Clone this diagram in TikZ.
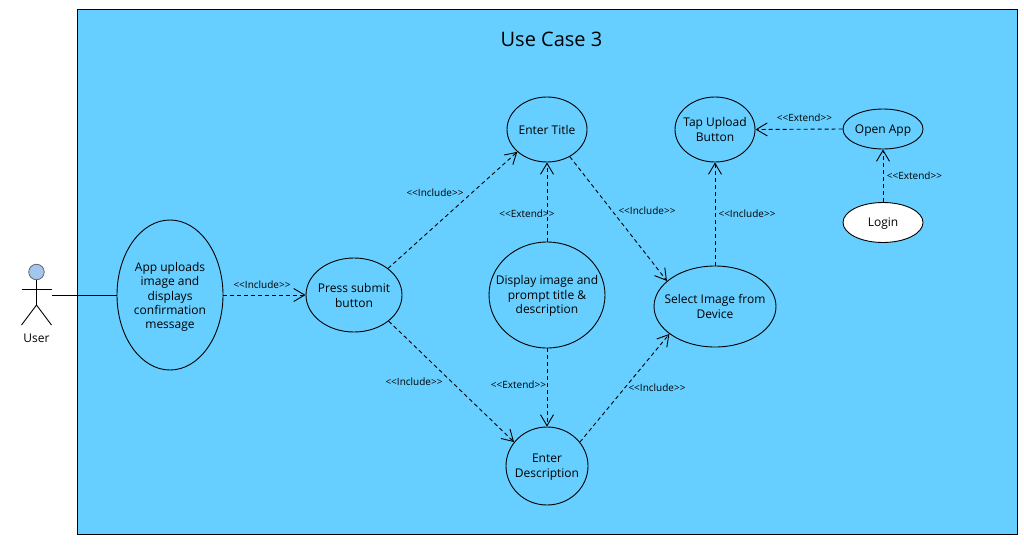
\documentclass[tikz,border=0pt]{standalone}
\usepackage{fontspec}
\setmainfont{Open Sans}
\usetikzlibrary{shapes.geometric,arrows.meta}
\definecolor{sysblue}{HTML}{66CFFF}
\definecolor{headblue}{HTML}{A3C6EF}
\newcommand{\inclab}{{<}{<}Include{>}{>}}
\newcommand{\extlab}{{<}{<}Extend{>}{>}}
\tikzset{
  usecase/.style={ellipse,draw=black,line width=0.9pt,inner sep=0pt},
  casetext/.style={inner sep=0pt,align=center,font=\fontsize{12}{14.4}\selectfont},
  dep/.style={draw=black,line width=0.9pt,dash pattern=on 4pt off 3pt,-{Straight Barb[length=11pt,width=13pt,line width=0.9pt]}},
  deplabel/.style={inner sep=0pt,font=\fontsize{10}{12}\selectfont},
  limb/.style={draw=black,line width=0.9pt}
}
\begin{document}
\begin{tikzpicture}[x=1pt,y=-1pt]
\useasboundingbox (0,0) rectangle (1024,546);
\fill[white] (0,0) rectangle (1024,546);
\node[draw=black,fill=sysblue,line width=1pt,outer sep=0pt,minimum width=939.5pt,minimum height=525pt,inner sep=0pt,anchor=north west] (system) at (77.5,9) {};
\node[font=\fontsize{20}{24}\selectfont,inner sep=0pt] (title) at (551.5,39) {Use Case 3};

\node[usecase,minimum width=106pt,minimum height=150pt,label={[casetext,yshift=-2pt]center:{App uploads\\image and\\displays\\confirmation\\message}}] (app) at (170,295) {};
\node[usecase,minimum width=96pt,minimum height=74pt,label={[casetext,yshift=-0.5pt]center:{Press submit\\button}}] (press) at (354,295) {};
\node[usecase,minimum width=80pt,minimum height=65pt,label={[casetext]center:{Enter Title}}] (etitle) at (547,129.5) {};
\node[usecase,minimum width=116pt,minimum height=106pt,label={[casetext,yshift=-1pt]center:{Display image and\\prompt title \&\\description}}] (display) at (547,295) {};
\node[usecase,minimum width=82pt,minimum height=78pt,label={[casetext,yshift=-1pt]center:{Enter\\Description}}] (desc) at (547,466) {};
\node[usecase,minimum width=122pt,minimum height=81pt,label={[casetext]center:{Select Image from\\Device}}] (select) at (715,306.5) {};
\node[usecase,minimum width=80pt,minimum height=65pt,label={[casetext]center:{Tap Upload\\Button}}] (tap) at (715,129.5) {};
\node[usecase,minimum width=80pt,minimum height=40pt,label={[casetext,yshift=-2pt]center:{Open App}}] (open) at (883,129) {};
\node[usecase,fill=white,minimum width=80pt,minimum height=40pt,label={[casetext,yshift=-1.5pt]center:{Login}}] (login) at (883,222.5) {};

% actor
\node[circle,draw=black!60,fill=headblue,line width=0.8pt,minimum size=15.5pt,inner sep=0pt] (head) at (36.5,272) {};
\coordinate (arml) at (21.5,289);
\coordinate (armr) at (51.5,289);
\coordinate (hip) at (36.5,305);
\coordinate (legl) at (21.5,325);
\coordinate (legr) at (51.5,325);
\coordinate (hand) at (51.5,295);
\draw[limb] (head.south) -- (hip);
\draw[limb] (arml) -- (armr);
\draw[limb] (legl) -- (hip) -- (legr);
\node[casetext] (user) at (36.5,338.5) {User};
\draw[limb] (hand) -- (app.west);

% connectors
\draw[dep] (app.east) -- (press.west);
\draw[dep] (press.38.7) -- (etitle.217);
\draw[dep] (press.-37.6) -- (desc.144);
\draw[dep] (etitle.-50) -- (select.152);
\draw[dep] (desc.36) -- (select.211);
\draw[dep] (display.north) -- (etitle.south);
\draw[dep] (display.south) -- (desc.north);
\draw[dep] (select.north) -- (tap.south);
\draw[dep] (open.west) -- (tap.east);
\draw[dep] (login.north) -- (open.south);

% labels
\node[deplabel] (l1) at (262,284.5) {\inclab};
\node[deplabel] (l2) at (435,193) {\inclab};
\node[deplabel] (l3) at (414,381.5) {\inclab};
\node[deplabel] (l4) at (647,210.5) {\inclab};
\node[deplabel] (l5) at (657,388) {\inclab};
\node[deplabel] (l6) at (527,214) {\extlab};
\node[deplabel] (l7) at (518.5,384.5) {\extlab};
\node[deplabel] (l8) at (747,213.5) {\inclab};
\node[deplabel] (l9) at (804.5,117.5) {\extlab};
\node[deplabel] (l10) at (914.5,176) {\extlab};
\end{tikzpicture}
\end{document}
